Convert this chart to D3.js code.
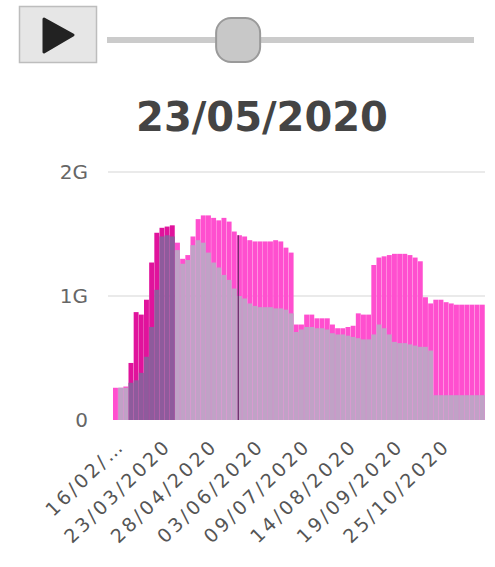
<!DOCTYPE html>
<html>
<head>
<meta charset="utf-8">
<script src="https://cdn.jsdelivr.net/npm/d3@7"></script>
<style>
  body { margin: 0; background: #fff; }
  text { font-family: "DejaVu Sans", Verdana, sans-serif; }
</style>
</head>
<body>
<script>
// bars are 4 days wide, starting 16/02/2020
var startDate = "2020-02-16"
var stepDays = 4
var pinkValues = [0.26, 0.26, 0.27, 0.46, 0.87, 0.85, 0.97, 1.27, 1.51, 1.55,
    1.56, 1.57, 1.43, 1.30, 1.33, 1.48, 1.62, 1.65, 1.65, 1.63,
    1.61, 1.63, 1.60, 1.52, 1.49, 1.48, 1.45, 1.44, 1.44, 1.44,
    1.44, 1.45, 1.44, 1.39, 1.35, 0.77, 0.77, 0.85, 0.85, 0.82,
    0.82, 0.82, 0.77, 0.74, 0.74, 0.75, 0.76, 0.86, 0.85, 0.85,
    1.25, 1.31, 1.32, 1.33, 1.34, 1.34, 1.34, 1.33, 1.31, 1.28,
    0.99, 0.94, 0.97, 0.97, 0.95, 0.94, 0.93, 0.93, 0.93, 0.93,
    0.93, 0.93]
var greyValues = [0, 0.26, 0.26, 0.30, 0.32, 0.38, 0.51, 0.75, 1.05, 1.48,
    1.49, 1.48, 1.37, 1.26, 1.29, 1.41, 1.45, 1.43, 1.35, 1.27,
    1.23, 1.17, 1.13, 1.06, 1.00, 0.98, 0.94, 0.92, 0.91, 0.91,
    0.91, 0.90, 0.90, 0.89, 0.86, 0.71, 0.73, 0.75, 0.75, 0.74,
    0.74, 0.73, 0.70, 0.69, 0.69, 0.68, 0.67, 0.66, 0.65, 0.65,
    0.69, 0.77, 0.74, 0.69, 0.63, 0.62, 0.62, 0.61, 0.60, 0.59,
    0.59, 0.56, 0.20, 0.20, 0.20, 0.20, 0.20, 0.20, 0.20, 0.20,
    0.20, 0.20]
var highlightRange = ["2020-02-28", "2020-04-01"]
var currentDate = "2020-05-23"
var currentLabel = "23/05/2020"
var tickDates = ["2020-02-16", "2020-03-23", "2020-04-28", "2020-06-03",
    "2020-07-09", "2020-08-14", "2020-09-19", "2020-10-25"]
var tickLabels = ["16/02/\u2026", "23/03/2020", "28/04/2020", "03/06/2020",
    "09/07/2020", "14/08/2020", "19/09/2020", "25/10/2020"]
var yTicks = [0, 1, 2]
var yTickLabels = ["0", "1G", "2G"]

var parse = d3.utcParse("%Y-%m-%d")
var t0 = parse(startDate)
var dates = pinkValues.map((_, i) => d3.utcDay.offset(t0, i * stepDays))
var tEnd = d3.utcDay.offset(t0, pinkValues.length * stepDays)
var hl = highlightRange.map(parse)
var now = parse(currentDate)

var dataset = dates.map((d, i) => {
    return { date: d, pink: pinkValues[i], grey: greyValues[i], hl: d >= hl[0] && d < hl[1] }
})

var W = 495, H = 567
var svg = d3.select("body").append("svg")
    .attr("width", W)
    .attr("height", H)

var xScale = d3.scaleUtc().domain([t0, tEnd]).range([113, 485])
var yScale = d3.scaleLinear().domain([0, 2]).range([420, 172])

// play button + slider
svg.append("rect")
    .attr("x", 19.5).attr("y", 6.5).attr("width", 77).attr("height", 56)
    .style("fill", "#e6e6e6").style("stroke", "#bdbdbd").style("stroke-width", 1.5)
svg.append("path")
    .attr("d", "M44,19 L73,35 L44,52 Z")
    .style("fill", "#222").style("stroke", "#222")
    .style("stroke-width", 3).style("stroke-linejoin", "round")

var sliderScale = d3.scaleUtc().domain([t0, tEnd]).range([129, 453])
svg.append("line")
    .attr("x1", 107).attr("x2", 474).attr("y1", 40).attr("y2", 40)
    .style("stroke", "#cbcbcb").style("stroke-width", 6)
svg.append("rect")
    .attr("x", sliderScale(now) - 22).attr("y", 18).attr("width", 44).attr("height", 44)
    .attr("rx", 15)
    .style("fill", "#c8c8c8").style("stroke", "#9a9a9a").style("stroke-width", 2)

// title
svg.append("text")
    .attr("x", 262).attr("y", 131)
    .style("text-anchor", "middle")
    .style("font-size", "40px").style("font-weight", "bold")
    .style("fill", "#444")
    .text(currentLabel)

// grid + y labels
svg.selectAll(".grid").data(yTicks.filter(d => d > 0)).enter().append("line")
    .attr("class", "grid")
    .attr("x1", 108).attr("x2", 485)
    .attr("y1", d => yScale(d)).attr("y2", d => yScale(d))
    .style("stroke", "#e3e3e3").style("stroke-width", 1.5)

svg.selectAll(".ylab").data(yTicks).enter().append("text")
    .attr("class", "ylab")
    .attr("x", 88).attr("y", d => yScale(d))
    .attr("dy", "0.35em")
    .style("text-anchor", "end")
    .style("font-size", "20px").style("fill", "#666")
    .text((d, i) => yTickLabels[i])

// bars
var bw = xScale(dates[1]) - xScale(dates[0])
svg.selectAll(".pink").data(dataset).enter().append("rect")
    .attr("class", "pink")
    .attr("x", d => xScale(d.date))
    .attr("width", bw - 0.25)
    .attr("y", d => yScale(d.pink))
    .attr("height", d => yScale(0) - yScale(d.pink))
    .style("fill", d => d.hl ? "#e0139c" : "#ff4fcf")

svg.selectAll(".grey").data(dataset).enter().append("rect")
    .attr("class", "grey")
    .attr("x", d => xScale(d.date))
    .attr("width", bw - 0.25)
    .attr("y", d => yScale(d.grey))
    .attr("height", d => yScale(0) - yScale(d.grey))
    .style("fill", d => d.hl ? "#8e5b9c" : "#c0a2c6")

// current date marker
var cur = dataset.filter(d => d.date <= now).pop()
svg.append("line")
    .attr("x1", xScale(now)).attr("x2", xScale(now))
    .attr("y1", yScale(cur.pink)).attr("y2", yScale(0))
    .style("stroke", "#6e2c6c").style("stroke-width", 1.3)

// x labels
svg.selectAll(".xlab").data(tickDates).enter().append("text")
    .attr("class", "xlab")
    .attr("transform", d => "translate(" + [xScale(parse(d)) + 3, 437] + ") rotate(-44)")
    .attr("dy", "0.75em")
    .style("text-anchor", "end")
    .style("font-size", "19px").style("letter-spacing", "3px").style("fill", "#555")
    .text((d, i) => tickLabels[i])
</script>
</body>
</html>
